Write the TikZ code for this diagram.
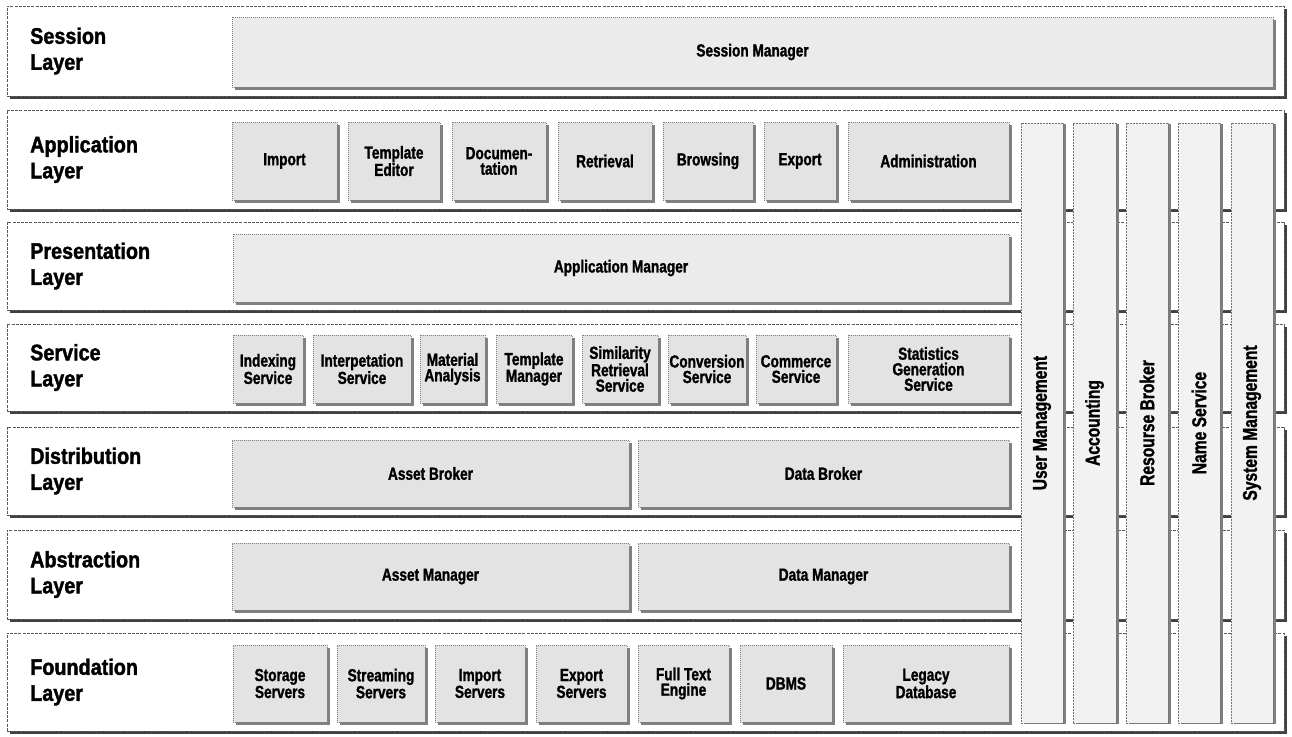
\documentclass[tikz,border=0pt]{standalone}
\usepackage{fontspec}
\setmainfont{Liberation Sans}
\newfontfamily\lblfont{Liberation Sans}[FakeStretch=0.88, FakeBold=1.6]
\newfontfamily\boxfont{Liberation Sans}[FakeStretch=0.78, FakeBold=1.3]
\usetikzlibrary{shadows}
\tikzset{
 layerbox/.style={draw=black!65, dash pattern=on 3pt off 1.2pt, line width=0.6pt, fill=white, inner sep=0pt,
   drop shadow={shadow xshift=2.5pt, shadow yshift=-2.5pt, fill=black!75, opacity=1}},
 ibox/.style={draw=black!50, dash pattern=on 1pt off 1pt, line width=0.6pt, fill=black!11, inner sep=0pt, align=center,
   font=\boxfont\bfseries\fontsize{17.5}{15.5}\selectfont,
   drop shadow={shadow xshift=2.5pt, shadow yshift=-2.5pt, fill=black!50, opacity=1}},
 wbox/.style={ibox, fill=black!8},
 colbox/.style={draw=black!55, dash pattern=on 2pt off 1pt, line width=0.6pt, fill=black!5, inner sep=0pt,
   font=\boxfont\bfseries\fontsize{20}{20}\selectfont,
   drop shadow={shadow xshift=3pt, shadow yshift=-1pt, fill=black!50, opacity=1}},
 lbl/.style={anchor=west, align=left, font=\lblfont\bfseries\fontsize{22.5}{26}\selectfont, inner sep=0pt},
}
\newcommand\layerband[4]{%
 \pgfmathsetmacro\lh{#3-#2}\pgfmathsetmacro\lc{(#2+#3)/2}%
 \node[layerbox, minimum width=1277pt, minimum height=\lh pt] (#1) at (645.5,\lc) {};%
 \node[lbl] (#1-label) at (30,\lc) {#4};}
\newcommand\ibx[7]{%
 \pgfmathsetmacro\cw{#4-#2}\pgfmathsetmacro\ch{#5-#3}%
 \pgfmathsetmacro\cx{(#2+#4)/2}\pgfmathsetmacro\cy{(#3+#5)/2}%
 \node[#7, minimum width=\cw pt, minimum height=\ch pt] (#1) at (\cx,\cy) {#6};}
\newcommand\colbx[4]{%
 \pgfmathsetmacro\cw{#3-#2}\pgfmathsetmacro\cx{(#2+#3)/2}%
 \node[colbox, minimum width=\cw pt, minimum height=600pt] (#1) at (\cx,423) {\rotatebox{90}{#4}};}
\begin{document}
\begin{tikzpicture}[x=1pt,y=-1pt]
\useasboundingbox (0,0) rectangle (1292,736);
% layers
\layerband{session}{6}{96}{Session\\Layer}
\layerband{application}{110}{209}{Application\\Layer}
\layerband{presentation}{222}{310}{Presentation\\Layer}
\layerband{service}{324}{411}{Service\\Layer}
\layerband{distribution}{427}{515}{Distribution\\Layer}
\layerband{abstraction}{530}{619}{Abstraction\\Layer}
\layerband{foundation}{633}{731}{Foundation\\Layer}
% session
\ibx{sessmgr}{232}{17}{1273}{87}{Session Manager}{wbox}
% application
\ibx{import}{232}{122}{337}{200}{Import}{ibox}
\ibx{tmpled}{348}{122}{440}{200}{Template\\Editor}{ibox}
\ibx{doc}{452}{122}{546}{200}{Documen-\\tation}{ibox}
\ibx{retr}{558}{122}{652}{200}{Retrieval}{ibox}
\ibx{brows}{663}{122}{753}{200}{Browsing}{ibox}
\ibx{export}{764}{122}{836}{200}{Export}{ibox}
\ibx{admin}{848}{122}{1009}{200}{Administration}{ibox}
% presentation
\ibx{appmgr}{233}{234}{1009}{302}{Application Manager}{wbox}
% service
\ibx{idx}{233}{335}{303}{403}{Indexing\\Service}{ibox}
\ibx{interp}{313}{335}{411}{403}{Interpetation\\Service}{ibox}
\ibx{mat}{420}{335}{485}{403}{Material\\Analysis}{ibox}
\ibx{tmplmgr}{496}{335}{572}{403}{Template\\Manager}{ibox}
\ibx{sim}{582}{335}{658}{403}{Similarity\\Retrieval\\Service}{ibox}
\ibx{conv}{668}{335}{746}{403}{Conversion\\Service}{ibox}
\ibx{comm}{756}{335}{836}{403}{Commerce\\Service}{ibox}
\ibx{stat}{848}{335}{1009}{403}{Statistics\\Generation\\Service}{ibox}
% distribution
\ibx{assetbr}{232}{440}{629}{507}{Asset Broker}{ibox}
\ibx{databr}{638}{440}{1009}{507}{Data Broker}{ibox}
% abstraction
\ibx{assetmgr}{232}{543}{629}{610}{Asset Manager}{ibox}
\ibx{datamgr}{638}{543}{1009}{610}{Data Manager}{ibox}
% foundation
\ibx{storage}{233}{645}{327}{722}{Storage\\Servers}{ibox}
\ibx{stream}{337}{645}{425}{722}{Streaming\\Servers}{ibox}
\ibx{impsrv}{435}{645}{525}{722}{Import\\Servers}{ibox}
\ibx{expsrv}{536}{645}{627}{722}{Export\\Servers}{ibox}
\ibx{fulltext}{638}{645}{729}{722}{Full Text\\Engine}{ibox}
\ibx{dbms}{740}{645}{832}{722}{DBMS}{ibox}
\ibx{legacy}{843}{645}{1009}{722}{Legacy\\Database}{ibox}
% vertical columns
\colbx{usermgmt}{1021}{1063}{User Management}
\colbx{acct}{1073}{1116}{Accounting}
\colbx{resbr}{1126}{1168}{Resourse Broker}
\colbx{namesv}{1178}{1220}{Name Service}
\colbx{sysmgmt}{1231}{1273}{System Management}
\end{tikzpicture}
\end{document}
